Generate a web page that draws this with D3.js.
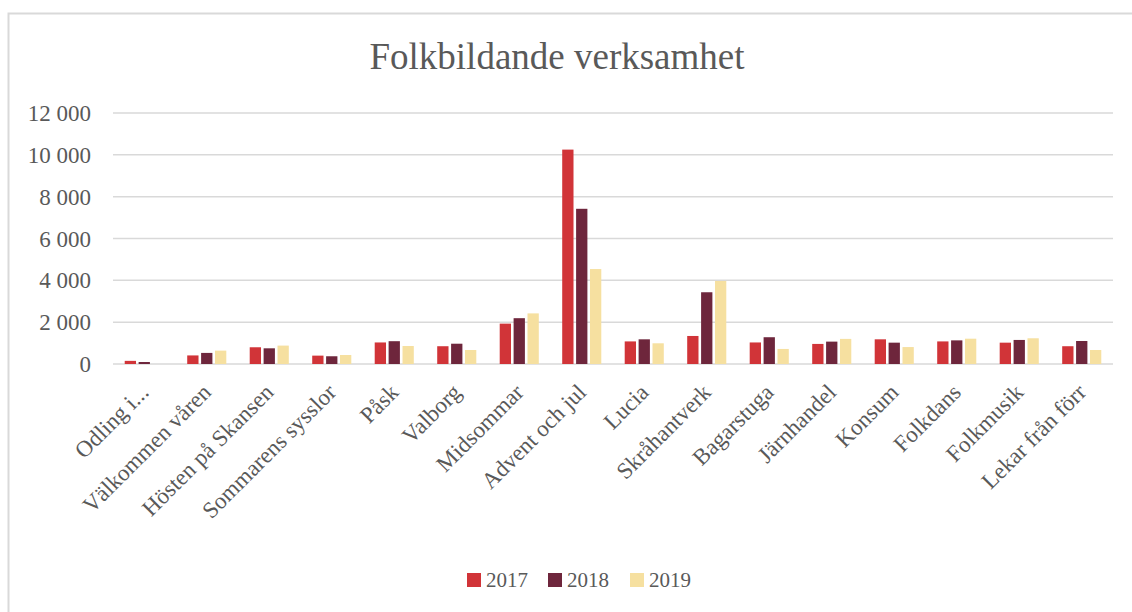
<!DOCTYPE html>
<html>
<head>
<meta charset="utf-8">
<script src="https://cdn.jsdelivr.net/npm/d3@7"></script>
<style>
  body { margin: 0; background: #fff; }
  svg text { font-family: "Liberation Serif", "DejaVu Serif", serif; fill: #595959; }
</style>
</head>
<body>
<svg></svg>
<script>
var width = 1132;
var height = 612;

var categories = ["Odling i...", "Välkommen våren", "Hösten på Skansen", "Sommarens sysslor",
  "Påsk", "Valborg", "Midsommar", "Advent och jul", "Lucia", "Skråhantverk",
  "Bagarstuga", "Järnhandel", "Konsum", "Folkdans", "Folkmusik", "Lekar från förr"];
var years = ["2017", "2018", "2019"];
var v2017 = [150, 410, 800, 400, 1030, 850, 1930, 10250, 1080, 1340, 1030, 960, 1180, 1080, 1020, 850];
var v2018 = [95, 530, 750, 370, 1090, 970, 2190, 7420, 1180, 3430, 1280, 1070, 1020, 1130, 1150, 1100];
var v2019 = [0, 640, 880, 430, 860, 670, 2420, 4540, 990, 3970, 720, 1200, 810, 1210, 1230, 670];
var yTicks = [0, 2000, 4000, 6000, 8000, 10000, 12000];
var colors = ["#d13438", "#6e263c", "#f6e0a0"];

var series = [v2017, v2018, v2019];

var svg = d3.select("svg")
  .attr("width", width)
  .attr("height", height);

// chart frame (right/bottom edges fall outside the picture)
svg.append("rect")
  .attr("x", 8.5).attr("y", 13.5)
  .attr("width", 1200).attr("height", 700)
  .attr("fill", "none")
  .attr("stroke", "#d9d9d9")
  .attr("stroke-width", 2);

var x0 = d3.scaleBand()
  .domain(categories)
  .range([113, 1113])
  .paddingInner(0.333)
  .paddingOuter(0.1667);

var x1 = d3.scaleBand()
  .domain(years)
  .range([0, x0.bandwidth()]);

var y = d3.scaleLinear()
  .domain([0, 12000])
  .range([364, 113]);

// gridlines
svg.append("g")
  .selectAll("line")
  .data(yTicks)
  .enter().append("line")
  .attr("x1", 113).attr("x2", 1113)
  .attr("y1", function(d) { return y(d); })
  .attr("y2", function(d) { return y(d); })
  .attr("stroke", "#d9d9d9")
  .attr("stroke-width", 1.5);

// y labels
svg.append("g")
  .selectAll("text")
  .data(yTicks)
  .enter().append("text")
  .attr("x", 91)
  .attr("y", function(d) { return y(d); })
  .attr("dy", "0.35em")
  .attr("text-anchor", "end")
  .style("font-size", "23px")
  .text(function(d) { return d3.format(",")(d).replace(/,/g, " "); });

// bars
var groups = svg.append("g")
  .selectAll("g")
  .data(categories)
  .enter().append("g")
  .attr("transform", function(d) { return "translate(" + x0(d) + ",0)"; });

groups.selectAll("rect")
  .data(function(d, i) {
    return years.map(function(yr, j) { return {year: yr, value: series[j][i], c: colors[j]}; });
  })
  .enter().append("rect")
  .filter(function(d) { return d.value > 0; })
  .attr("x", function(d) { return x1(d.year) + 1.3; })
  .attr("width", x1.bandwidth() - 2.6)
  .attr("y", function(d) { return y(d.value); })
  .attr("height", function(d) { return y(0) - y(d.value); })
  .attr("fill", function(d) { return d.c; });

// category labels
svg.append("g")
  .selectAll("text")
  .data(categories)
  .enter().append("text")
  .attr("transform", function(d) {
    return "translate(" + (x0(d) + x0.bandwidth() / 2) + ",388) rotate(-45)";
  })
  .attr("text-anchor", "end")
  .attr("dy", "0.35em")
  .style("font-size", "23px")
  .text(function(d) { return d; });

// title
svg.append("text")
  .attr("x", 557)
  .attr("y", 69)
  .attr("text-anchor", "middle")
  .style("font-size", "37px")
  .text("Folkbildande verksamhet");

// legend
var legend = svg.append("g")
  .selectAll("g")
  .data(years)
  .enter().append("g")
  .attr("transform", function(d, i) { return "translate(" + [467, 548, 630][i] + ",573)"; });

legend.append("rect")
  .attr("width", 14).attr("height", 14)
  .attr("fill", function(d, i) { return colors[i]; });

legend.append("text")
  .attr("x", 19)
  .attr("y", 14)
  .style("font-size", "21px")
  .text(function(d) { return d; });
</script>
</body>
</html>
